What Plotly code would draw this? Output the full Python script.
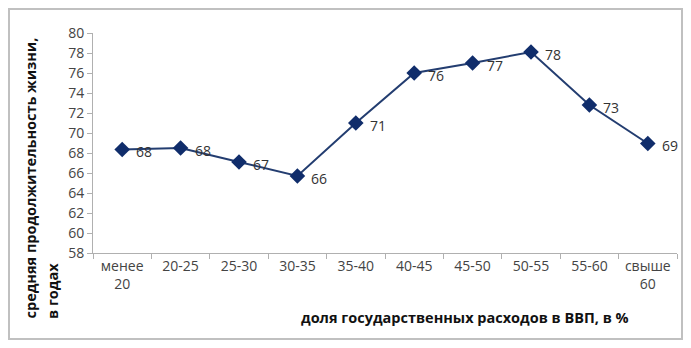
import plotly.graph_objects as go

categories = ["менее<br>20", "20-25", "25-30", "30-35", "35-40", "40-45", "45-50", "50-55", "55-60", "свыше<br>60"]
life_expectancy = [68.35, 68.5, 67.1, 65.7, 71.0, 76.0, 77.0, 78.1, 72.8, 68.95]
labels = ["68", "68", "67", "66", "71", "76", "77", "78", "73", "69"]
y_ticks = [58, 60, 62, 64, 66, 68, 70, 72, 74, 76, 78, 80]

FONT = "Open Sans"
OFF = 8  # page body margin
W, H = 691 - 2 * OFF, 348 - 2 * OFF
# target screen coordinates of the plot area
SX0, SX1, SY0, SY1 = 93, 677, 33, 253
L, T = SX0 - OFF, SY0 - OFF
R, B = W - (SX1 - OFF), H - (SY1 - OFF)
pw, ph = SX1 - SX0, SY1 - SY0

def px(x):
    return (x - SX0) / pw

def py(y):
    return (SY1 - y) / ph

fig = go.Figure()
fig.add_trace(go.Scatter(
    x=categories, y=life_expectancy, mode="lines+markers",
    line=dict(color="#233d70", width=2),
    marker=dict(symbol="diamond", size=12, color="#102d6b"),
    cliponaxis=False, showlegend=False,
))
for c, v, t in zip(categories, life_expectancy, labels):
    fig.add_annotation(x=c, y=v, text=t, showarrow=False, xanchor="left", yanchor="middle",
                       xshift=12, yshift=-2,
                       font=dict(family=FONT, size=14, color="#333333"))

fig.update_layout(
    width=W, height=H,
    margin=dict(l=L, r=R, t=T, b=B, pad=0),
    paper_bgcolor="white", plot_bgcolor="white",
    font=dict(family=FONT, size=13, color="#444444"),
)
fig.update_xaxes(
    type="category", showgrid=False, showline=True, linecolor="#b0b0b0", linewidth=1,
    ticks="outside", tickson="boundaries", ticklen=5, tickcolor="#b0b0b0",
    tickfont=dict(family=FONT, size=14, color="#444444"),
    range=[-0.5, 9.5],
)
fig.update_yaxes(
    range=[58, 80], tickvals=y_ticks, showgrid=False, showline=True,
    linecolor="#b0b0b0", linewidth=1, ticks="outside", ticklen=5, tickcolor="#b0b0b0",
    tickfont=dict(family=FONT, size=14, color="#444444"), zeroline=False,
)

# y title (two lines, bottom-aligned)
fig.add_annotation(x=px(30), y=py(321), xref="paper", yref="paper",
                   text="<b>средняя продолжительность жизни,</b>", textangle=-90,
                   showarrow=False, xanchor="center", yanchor="bottom",
                   font=dict(family=FONT, size=14.5, color="#111111"))
fig.add_annotation(x=px(52), y=py(321), xref="paper", yref="paper",
                   text="<b>в годах</b>", textangle=-90,
                   showarrow=False, xanchor="center", yanchor="bottom",
                   font=dict(family=FONT, size=14.5, color="#111111"))
# x title
fig.add_annotation(x=px(465), y=py(317), xref="paper", yref="paper",
                   text="<b>доля государственных расходов в ВВП, в %</b>",
                   showarrow=False, xanchor="center", yanchor="middle",
                   font=dict(family=FONT, size=14.5, color="#111111"))

# outer border (as close to the reference frame as the page allows)
fig.add_shape(type="rect", xref="paper", yref="paper",
              x0=px(OFF + 1), x1=px(691 - OFF - 1), y0=py(339), y1=py(OFF + 1),
              line=dict(color="#c0c0c0", width=2), fillcolor="rgba(0,0,0,0)")

fig.write_html("out.html")
